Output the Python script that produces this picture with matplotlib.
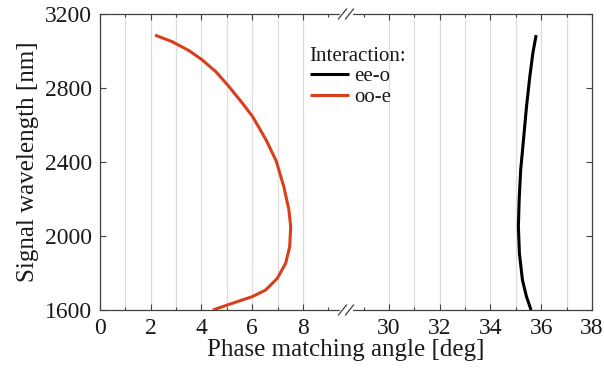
import numpy as np
import matplotlib
matplotlib.use("Agg")
import matplotlib.pyplot as plt

# Phase matching curves (angle in deg, signal wavelength in nm)
oo_e_angle = [2.17, 2.85, 3.51, 4.0, 4.57, 5.09, 5.62, 6.02, 6.55, 6.95,
              7.25, 7.45, 7.52, 7.48, 7.32, 6.99, 6.53, 6.0, 5.21, 4.45]
oo_e_wl = [3086, 3050, 3002, 2955, 2888, 2807, 2717, 2645, 2519, 2405,
           2266, 2141, 2050, 1942, 1852, 1771, 1708, 1672, 1636, 1600]

ee_o_angle = [35.8, 35.67, 35.55, 35.42, 35.3, 35.19, 35.13, 35.1, 35.14,
              35.26, 35.42, 35.6]
ee_o_wl = [3086, 2988, 2861, 2699, 2519, 2357, 2195, 2050, 1906,
           1762, 1672, 1600]

x_major = [0, 2, 4, 6, 8, 30, 32, 34, 36, 38]
x_minor = [1, 3, 5, 7, 9, 29, 31, 33, 35, 37]
x_grid = [1, 2, 3, 4, 5, 6, 7, 8, 30, 31, 32, 33, 34, 35, 36, 37]
y_ticks = [1600, 2000, 2400, 2800, 3200]

# Broken x scale: 0..9.7 joined directly to 28.3..38
BREAK_LO, BREAK_HI = 9.7, 28.3
GAP = BREAK_HI - BREAK_LO


def fwd(x):
    x = np.asarray(x, dtype=float)
    return np.where(x <= BREAK_LO, x, np.where(x >= BREAK_HI, x - GAP, BREAK_LO))


def inv(u):
    u = np.asarray(u, dtype=float)
    return np.where(u <= BREAK_LO, u, u + GAP)


plt.rcParams['font.family'] = ['Liberation Serif', 'DejaVu Serif']

fig = plt.figure(figsize=(6.04, 3.71), dpi=100)
ax = fig.add_axes([0.1656, 0.1644, 0.8144, 0.7979])
ax.set_xscale('function', functions=(fwd, inv))
ax.set_xlim(0, 38)
ax.set_ylim(1600, 3200)

for g in x_grid:
    ax.axvline(g, color='#dcdcdc', lw=0.9, zorder=0)

line_kw = dict(lw=2.2, zorder=3, solid_joinstyle='round', solid_capstyle='butt')
ax.plot(ee_o_angle, ee_o_wl, color='black', label='ee-o', **line_kw)
ax.plot(oo_e_angle, oo_e_wl, color='#d8401c', label='oo-e', **line_kw)

ax.set_xticks(x_major)
ax.set_xticklabels([str(v) for v in x_major])
ax.set_xticks(x_minor, minor=True)
ax.set_yticks(y_ticks)
ax.tick_params(which='both', direction='in', top=True, right=True,
               color='#404040', labelsize=17, labelcolor='#1a1a1a')
ax.tick_params(which='major', length=4.5, width=0.8, pad=6)
ax.tick_params(which='minor', length=2.5, width=0.8)
ax.tick_params(axis='y', which='minor', left=False, right=False)

for s in ax.spines.values():
    s.set_color('#404040')
    s.set_linewidth(0.9)

ax.set_xlabel('Phase matching angle [deg]', fontsize=18, color='#1a1a1a', labelpad=0)
ax.set_ylabel('Signal wavelength [nm]', fontsize=18, color='#1a1a1a', labelpad=4)

leg = ax.legend(title='Interaction:', loc='upper left', bbox_to_anchor=(0.405, 0.925),
                frameon=False, fontsize=15, title_fontsize=15, handlelength=1.9,
                handletextpad=0.25, labelspacing=0.05, borderpad=0.0,
                alignment='left')
for t in leg.get_texts():
    t.set_color('#1a1a1a')
leg.get_title().set_color('#1a1a1a')

# Break markers on top and bottom spines
bbox = ax.get_window_extent()
pw, ph = bbox.width, bbox.height
cx = 0.5
for yb in (0.0, 1.0):
    ax.add_patch(plt.Rectangle((cx - 6 / pw, yb - 2 / ph), 12 / pw, 4 / ph,
                               transform=ax.transAxes, color='white',
                               clip_on=False, zorder=5))
    for off in (-3.5, 3.5):
        ax.plot([cx + (off - 4) / pw, cx + (off + 4) / pw],
                [yb - 5 / ph, yb + 5 / ph], transform=ax.transAxes,
                color='#404040', lw=0.9, clip_on=False, zorder=6)

fig.savefig('out.png', dpi=100, facecolor='white')
